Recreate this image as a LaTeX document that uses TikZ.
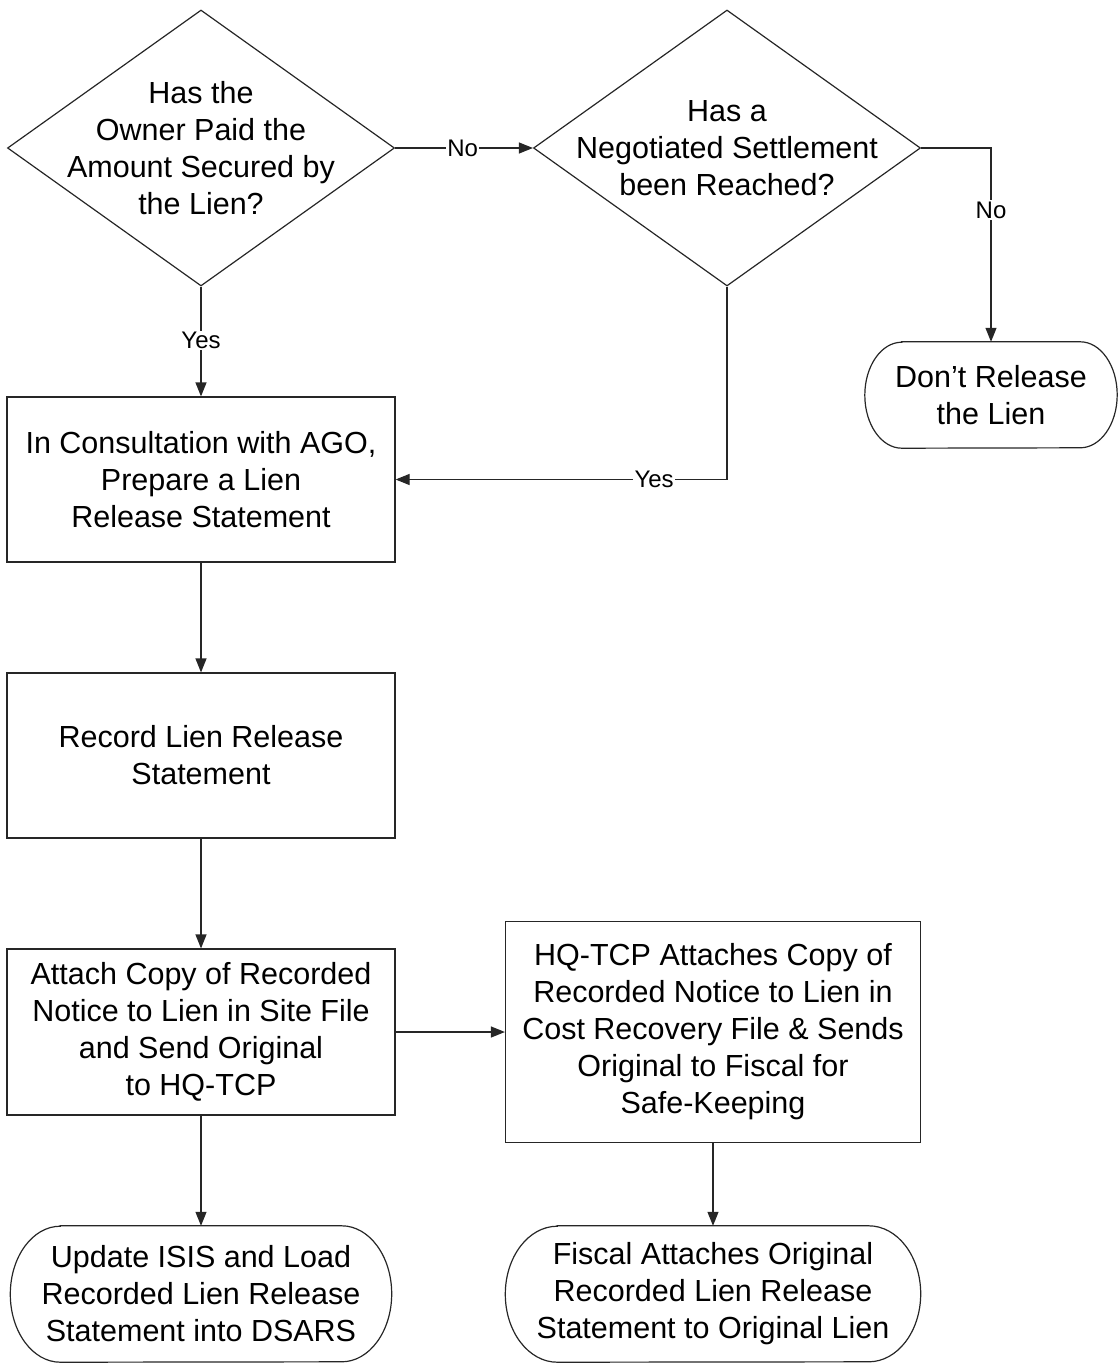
\documentclass[tikz,border=0pt]{standalone}
\usepackage{fontspec}
\setmainfont{Liberation Sans}
\usetikzlibrary{shapes.geometric,arrows.meta}
\tikzset{
  ln/.style={draw=black!85, line width=1.2pt},
  arr/.style={ln, -{Triangle[length=14pt,width=11pt]}},
  txt/.style={align=center, font=\fontsize{30.5}{37}\selectfont},
  dia/.style={ln, diamond, inner sep=0pt, minimum width=387pt, minimum height=276pt},
  boxn/.style={ln, rectangle, inner sep=0pt, minimum width=388pt, minimum height=165pt, txt},
  term/.style={rectangle, inner sep=0pt, txt},
  lab/.style={fill=white, inner sep=1.5pt, font=\fontsize{24}{27}\selectfont}
}
\begin{document}
\begin{tikzpicture}[x=1pt,y=-1pt]
\useasboundingbox (0,0) rectangle (1119,1364);
% decisions
\node[dia, label={[txt]center:{Has the\\Owner Paid the\\Amount Secured by\\the Lien?}}] (d1) at (201,148) {};
\node[dia, label={[txt]center:{Has a\\Negotiated Settlement\\been Reached?}}] (d2) at (727,148) {};
% terminal: don't release
\node[term, minimum width=252pt, minimum height=106pt] (t3) at (991,395) {Don't Release\\the Lien};
\draw[ln] ([xshift=37pt]t3.north west) -- ([xshift=-37pt]t3.north east)
  arc[start angle=90, end angle=-90, x radius=37pt, y radius=53pt]
  -- ([xshift=37pt]t3.south west)
  arc[start angle=270, end angle=90, x radius=37pt, y radius=53pt] -- cycle;
% boxes
\node[boxn] (b1) at (201,479.5) {In Consultation with AGO,\\Prepare a Lien\\Release Statement};
\node[boxn] (b2) at (201,755.5) {Record Lien Release\\Statement};
\node[boxn, minimum height=166pt] (b3) at (201,1032) {Attach Copy of Recorded\\Notice to Lien in Site File\\and Send Original\\to HQ-TCP};
\node[boxn, minimum width=415pt, minimum height=221pt] (b4) at (713,1032) {HQ-TCP Attaches Copy of\\Recorded Notice to Lien in\\Cost Recovery File \& Sends\\Original to Fiscal for\\Safe-Keeping};
% terminals bottom
\node[term, minimum width=381pt, minimum height=136pt] (t1) at (201,1294) {Update ISIS and Load\\Recorded Lien Release\\Statement into DSARS};
\draw[ln] ([xshift=50pt]t1.north west) -- ([xshift=-50pt]t1.north east)
  arc[start angle=90, end angle=-90, x radius=50pt, y radius=68pt]
  -- ([xshift=50pt]t1.south west)
  arc[start angle=270, end angle=90, x radius=50pt, y radius=68pt] -- cycle;
\node[term, minimum width=415pt, minimum height=136pt] (t2) at (713,1294) {Fiscal Attaches Original\\Recorded Lien Release\\Statement to Original Lien};
\draw[ln] ([xshift=52pt]t2.north west) -- ([xshift=-52pt]t2.north east)
  arc[start angle=90, end angle=-90, x radius=52pt, y radius=68pt]
  -- ([xshift=52pt]t2.south west)
  arc[start angle=270, end angle=90, x radius=52pt, y radius=68pt] -- cycle;
% connectors
\draw[arr] (d1.east) -- node[lab, pos=0.49]{No} (d2.west);
\draw[arr] (d2.east) -| node[lab, pos=0.66]{No} (t3.north);
\draw[arr] (d1.south) -- node[lab, pos=0.49]{Yes} (b1.north);
\draw[arr] (d2.south) |- node[lab, pos=0.61]{Yes} (b1.east);
\draw[arr] (b1.south) -- (b2.north);
\draw[arr] (b2.south) -- (b3.north);
\draw[arr] (b3.east) -- (b4.west);
\draw[arr] (b3.south) -- (t1.north);
\draw[arr] (b4.south) -- (t2.north);
\end{tikzpicture}
\end{document}
